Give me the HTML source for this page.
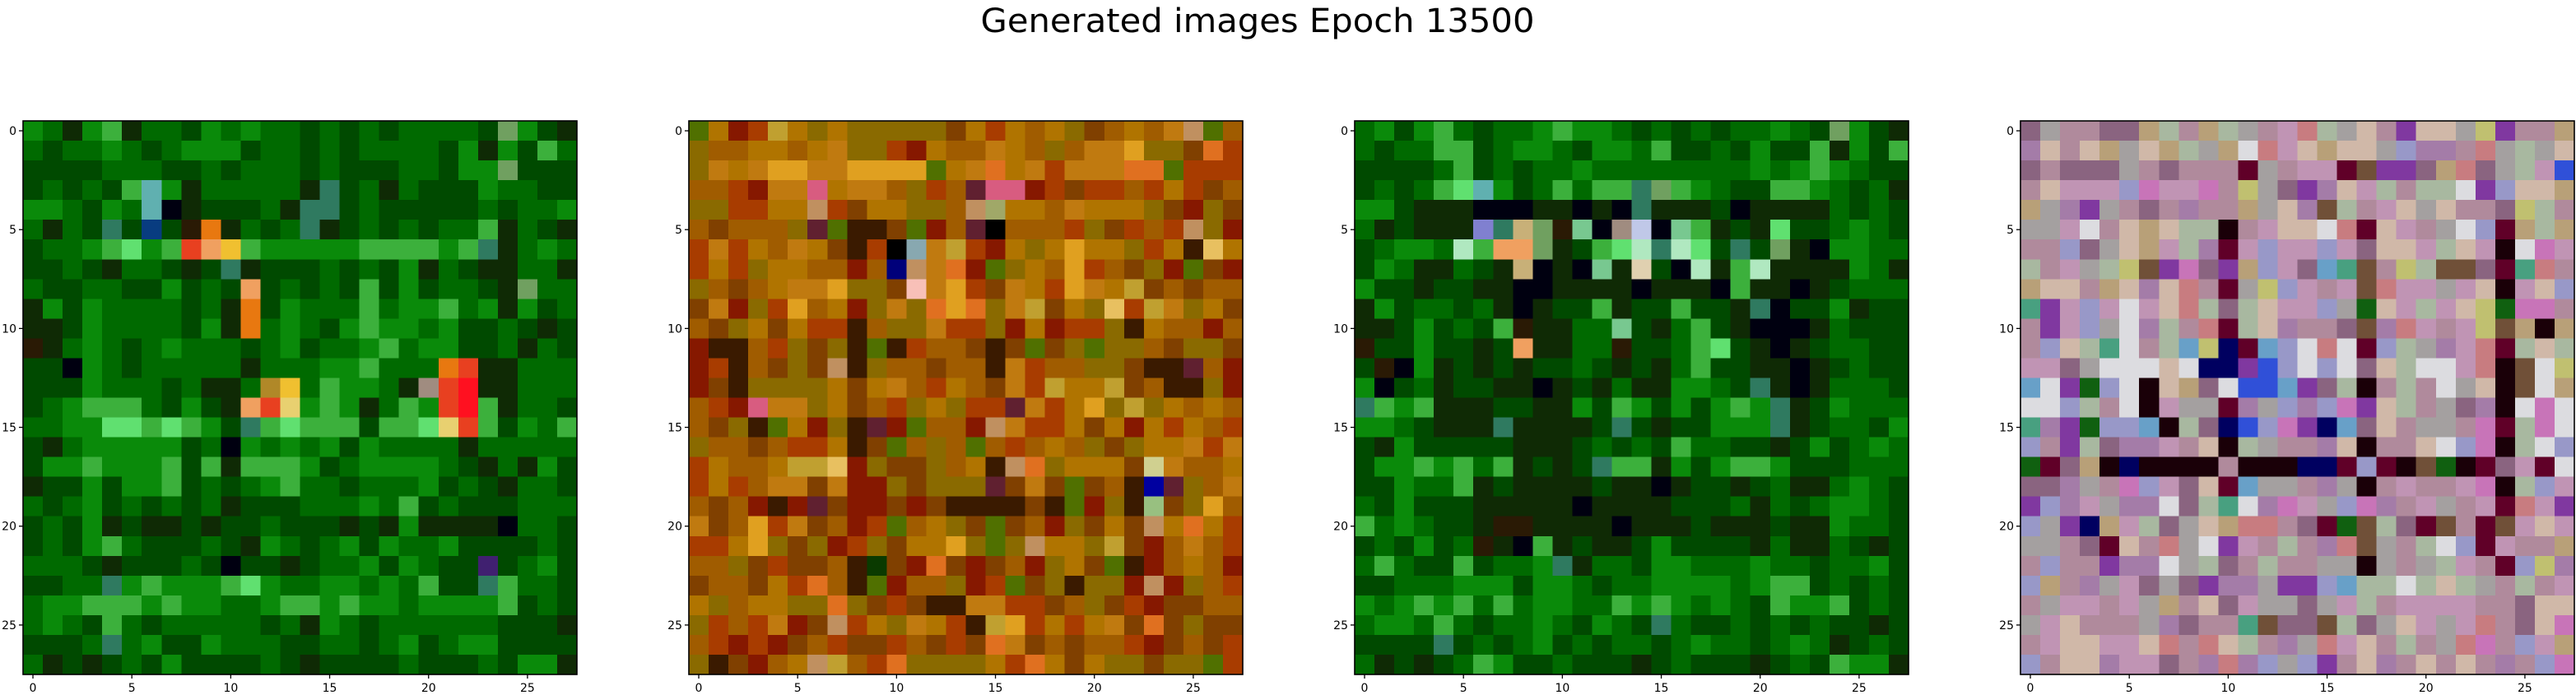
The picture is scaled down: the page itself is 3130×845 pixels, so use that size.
<!DOCTYPE html>
<html><head><meta charset="utf-8"><title>Generated images Epoch 13500</title>
<style>html,body{margin:0;padding:0;background:#fff;width:3130px;height:845px;overflow:hidden}svg{display:block}</style>
</head><body>
<svg id="chart" width="3130" height="845" viewBox="0 0 3130 845" xmlns="http://www.w3.org/2000/svg">
<text x="1528" y="39" text-anchor="middle" font-family="DejaVu Sans, Liberation Sans, sans-serif" font-size="40" textLength="673" lengthAdjust="spacingAndGlyphs" fill="#000">Generated images Epoch 13500</text>
</svg>
<script>
const tickValues = [0, 5, 10, 15, 20, 25];
const tickLabels = ["0", "5", "10", "15", "20", "25"];
const gridSize = 28;

const palGreen = {g:"#006a00",d:"#004a00",G:"#0a8a0a",k:"#0f2a05",l:"#3cb03c",L:"#60e070",o:"#e87810",O:"#f0a060",y:"#f0c030",Y:"#b08828",z:"#e8d070",r:"#e84020",R:"#ff1020",c:"#60b0b0",t:"#2f7a60",b:"#083c80",n:"#000010",w:"#a08c80",p:"#402070",h:"#2a1a05",q:"#70a060",v:"#8080d0",e:"#78c890",f:"#c8b078",x:"#e0d0b0",m:"#c0c8e8",s:"#b0e8c0"};
const palOrange = {a:"#a05c00",b:"#b07400",c:"#c07a10",o:"#8a6a00",r:"#a83c00",R:"#861800",k:"#3a1a00",y:"#e0a020",Y:"#c0a030",e:"#e07020",p:"#d85c80",P:"#f8c0b8",n:"#000000",N:"#00007a",g:"#507000",G:"#0a3a00",s:"#88a8b0",q:"#a0a868",m:"#602030",f:"#c09060",z:"#e8c060",u:"#d0d090",x:"#98c080",B:"#0000a0",d:"#804000"};
const palPastel = {a:"#b08a9c",b:"#c094b4",c:"#a4a0a0",d:"#8a6480",e:"#d0b8a8",f:"#a47ca8",g:"#a8b8a0",h:"#dcdce0",k:"#1a0008",m:"#600028",p:"#c874b8",P:"#8038a0",n:"#000060",B:"#3050d8",l:"#68a0c8",r:"#c87c80",q:"#b8a078",G:"#106010",t:"#48a080",v:"#9898c8",y:"#c0c070",o:"#705038"};

const image1Rows = [
"GgkGlkggdGgGggdgdgdggggdqGdk","gdggGgdgGGGdggdgdggggdGkGdl".padEnd(28,"g"),"ddddgggddgdgggdgdddggdGGqddd","dgdgdlcGkgggggktdgkgdddGggdd",
"GGgdGgcnkdddgkttdgdddddgdggGd".slice(0,28),"gkgdtdbdhokgdgtkdgdgdgglkgdk","dggGlLGlrOylGGGGGllllGltkgGg","ddgdkggdkdtkdddgdgdGkgdkkggk",
"gddggddGdgdOdgdgdldGdggdkqgg","kGdGggggdgkodGggglgGGlgGkGdg","kkdGggggdGkogGgdGlGGgGddgdkd","hkgGgdgGgggdgGdggGlgGGddgkgd",
"ddnGgdgggggkgggGGlgggorkkggg","dddGgggdgkkgYyglGGgkwrRkkggg","dgGlllgdGdkOrzGlGkglGrRlkggd","ggGGLLlLlGdtlLllldllLzrldGgl",
"dkgGGGGGdgnGgGgGdGggggkgggg".padEnd(28,"g"),"dGGlGGGldlklllGdgGGGGgdkgkG".padEnd(28,"d"),"kddGdGGldgdgGlggdgggGdgdkggd","gdgGdgdgdgkdddgggGgldgdddgg".padEnd(28,"g"),
"dgdGkdkkdkddgdddkdkGkkkknggd","dgdGlgdddgdkGgdgGdGggGddddgd","gggdkdddgdnddkdggGdGgddpdgGd","ddggtGlGGGlLGggGGgGglddtlggd",
"gGGlllGlGGggGllGlGGgGGGGldgd","gGgdlgdgggggdgkGgdggggggdddk","dddgtgGddGgggddggdgGdgGGdddd","gkdkdgdGddddgdkddddgdddgdGGk"
];
const image2Rows = [
"gbRrYbobooooodbrbabodabacfgar","oaabbabcoorRbaacbaoaccyooder","ocbcyyccyyyygbcebcrccceegrrr","aarRccpbccaoramppRrdrrarbrdad",
"oorrbbfrdbbooafqbbacbbbodRod","adaaaomgkkdgRamnaaarodrarfoR","rcrbacbdkrnscYrRbobybborbkzbr","rbrobbaaRaNfceRgobayradoRgdR",
"oadabccyoodPcyrdcbrycbYdada","dcRoryabRocoeyeocYdbozrYcobd","adobdbrrkaoocrroRbRrrokbaaRa","Rkkarodokgkraadkdgdogooadood",
"RrkadodfkoaadaakcraaoodkkmaR","RdkoooobdbcarbadcrYbbYdakkoR","arRpccobdaroborrmcrbyoYobabaa","adokgbRokmRgaaRfcrrbdbRbrbar",
"oaadarrbkdgaoagarabaodobbcrc","rbaabYYzRoddoabkfeobbbducaab","rbraccdcRRodooomdcdgdakBmoac","adaRkRmdRRdRdkkkkdkgRokxdoya",
"cdayrcdaRrgabodgdaRodbdfbebr","rrbyodoRrodbbyogofbboYdRacar","aaodrddakGdRedRdaRobdgkRabaR","daadbreakgRaaoRrgdokooRfRoar",
"boabbooeodrdkkccrrdaodrRdda","orarcRdfrbocbrkYyrbrbcdedodd","arRrRdarddradrdecdadaarRdadr","okdRabfYareoooobrebdboodoogr"
].map(s => s.padEnd(28, "a").slice(0, 28));
const image3Rows = [
"gGdGlgdggGlGGgdgdgdggGgdqGdk","gdgglldgGGgdGGglddgdGddlkGdl","ddddgldgdggGggggggggGgGlGgd".padEnd(28,"d"),"dgdglLcGdglglltqlGgddllGgdgk",
"GGdkkknnnkknkntkkkdnkkkkgdgd","gkdkkkvtfqhenwmnelkdkLddgGgd","dgGGgslOOqkdlLstsLdtdqknGGgg","dGgkkgdkfnknekxdnsklskkkkGgk",
"GddkddkknnkkkknkkknlkknkdgggG".slice(0,28),"kGdggdgknkddlkddlddktnddGkd".padEnd(28,"d"),"kkdGdgdlhkkggedkgldknnnkgddd","hddGddkdOkkgghddglLdknkdggdd",
"dhnGkdkdkddgdkdkglddkknkdgdd","GndgkddkknkdkgkkGGgdtknkgggd","tlGlkkkddkkGdlGdGdGlGtkdGggg","GGgdkkktkkkkdtdkddGGGtkdggdG",
"dkGdddddkkkdgdgdlggddkdGdgG".padEnd(28,"g"),"dGGlGlglkdkdtllkGdGllGdddggg","ddGgglkdkkkkdkknkddkdgkkgGgd","gdGdddkkkkknkkkkdddgkgdgGGgd",
"lgGgddkhhkkkknkkkdkkkdkkGggd","dgdGdghknlkdkkdGddddkgkkgdkd","glgddldggGtkggdGGgggGggdggGd","ddgggGGGdGGgdggGGGGgGlldgdgd",
"GgGlGlglgGGgglGlGgGgdlGGldgd","gGGglgdggGgdGgdtgddgdgdgddkd","ddddtdgdgGdgdggdgGggdgGgkdgd","gkdkdglGddgdddkdgdddkdgdlGGk"
];
const image4Rows = [
"dcaaddqgaqgcabrgceaPeecyPaaq","feaeqceqgcqhrbeqeecvffarcgce","dadddcadaaamcabbmoPPdqrdcgbB","aebbbvpbbpaycdPfebgagghPveeq",
"qcfPcadafaaqcefogabeceaadyga","ccbhaeqeggkabeehrmebachvmqgq","aavdceqbgfmbvbbvbdeebgebkhpb","gabcgyoPpdPqvbdltoaygoodmtra",
"qeeaqeferamcyvbaborbbcbekbev","tPbvbhbergdgebbvcGebgbeyGppa","aPbvchfgarmgefaadofrbabyoqkq","avegthaglynmlvhrhmvgcfbrmgeg",
"bbdchhhehnnPBvhvhdeghhbrkohy","lhPGvhkeqdhBBlPdgkagahcekohq","hhvgahkbccmfcvfvpPegacdfkhph","tfPGvvlkgdnBvpPnldeaccapmgph",
"vaPgdffbaekgcaafekaaehvpkghv","GmdqknkkkkakkknnmvmkoGkmdbmh","ddfcapvbdemlccafckabaabpkgvb","PvfbcffhdgthfpbcvpfabcabmrbP",
"vcPnqbgdceqrradmGogdmoamobeb","ccadmearchPbagafrocaghvmbaaq","avaaPffhcgdagaacckcacgbamvyf","vqafcbdcdPffcPPvlgghgegcagab",
"acbbabcqaedbccdcbgabbbbaadee","cbeaaacfdaatoddogdcebcbradep","abeebberaregafcrbeagacrpavbq","vaeefbbdafrfvcvPaefaeaeafavp"
];

const panelLefts = [28, 837, 1646, 2455];
const panelTop = 147;
const panelSize = 673;

const NS = "http://www.w3.org/2000/svg";
const svg = document.getElementById("chart");

function xScale(v, left) { return left + (v + 0.5) / gridSize * panelSize; }
function yScale(v) { return panelTop + (v + 0.5) / gridSize * panelSize; }

function mk(tag, attrs) { const e = document.createElementNS(NS, tag); for (const k in attrs) e.setAttribute(k, attrs[k]); return e; }

const images = [[image1Rows, palGreen], [image2Rows, palOrange], [image3Rows, palGreen], [image4Rows, palPastel]];

images.forEach(([rows, pal], idx) => {
  const left = panelLefts[idx];
  const g = mk("g", {});
  
  
  svg.appendChild(g);
  const cells = mk("g", {"shape-rendering": "crispEdges"});
  
  
  g.appendChild(cells);
  const cw = panelSize / gridSize;
  for (let r = 0; r < gridSize; r++) {
    const row = (rows[r] || "").padEnd(gridSize, Object.keys(pal)[0]);
    for (let c = 0; c < gridSize; c++) {
      const col = pal[row[c]] || pal[Object.keys(pal)[0]];
      const x0 = xScale(c - 0.5, left), y0 = yScale(r - 0.5);
      const rect = mk("rect", {x: x0.toFixed(2), y: y0.toFixed(2), width: (cw + 0.6).toFixed(2), height: (cw + 0.6).toFixed(2), fill: col});
      
      
      cells.appendChild(rect);
    }
  }
  const frame = mk("rect", {x: left, y: panelTop, width: panelSize, height: panelSize, fill: "none", stroke: "#000", "stroke-width": 1.6});
  
  
  g.appendChild(frame);
  const bottom = panelTop + panelSize;
  tickValues.forEach((v, i) => {
    const x = xScale(v, left);
    const tx = mk("line", {x1: x, y1: bottom, x2: x, y2: bottom + 5, stroke: "#000", "stroke-width": 1.3});
    
    
    g.appendChild(tx);
    const lx = mk("text", {x: x, y: bottom + 21, "text-anchor": "middle", "font-family": "DejaVu Sans, Liberation Sans, sans-serif", "font-size": 14, fill: "#000"});
    lx.textContent = tickLabels[i];
    
    
    g.appendChild(lx);
    const y = yScale(v);
    const ty = mk("line", {x1: left - 5, y1: y, x2: left, y2: y, stroke: "#000", "stroke-width": 1.3});
    
    
    g.appendChild(ty);
    const ly = mk("text", {x: left - 8, y: y + 5, "text-anchor": "end", "font-family": "DejaVu Sans, Liberation Sans, sans-serif", "font-size": 14, fill: "#000"});
    ly.textContent = tickLabels[i];
    
    
    g.appendChild(ly);
  });
});
</script>
</body></html>
